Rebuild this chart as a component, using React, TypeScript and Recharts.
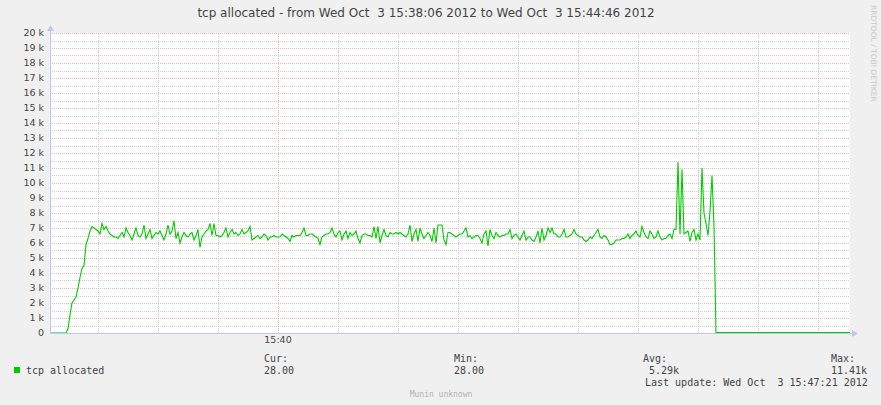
import React from 'react';
import { LineChart, Line, XAxis, YAxis, ReferenceLine, ReferenceArea } from 'recharts';

const TITLE = 'tcp allocated - from Wed Oct  3 15:38:06 2012 to Wed Oct  3 15:44:46 2012';
const SERIES_NAME = 'tcp allocated';
const SIDE_TEXT = 'RRDTOOL / TOBI OETIKER';
const LAST_UPDATE = 'Last update: Wed Oct  3 15:47:21 2012';
const FOOTER = 'Munin unknown';

// seconds since 15:38:06, one sample per second
const values = [
  0, 0, 0, 0, 0, 0, 0, 0, 0, 300,
  1200, 2000, 2200, 2400, 3000, 3700, 4300, 4500, 5900, 6300,
  6800, 7100, 7000, 6900, 6800, 6600, 7300, 6900, 7100, 6800,
  6600, 6500, 6400, 6400, 6300, 6500, 6700, 6400, 7000, 6700,
  6500, 6200, 6600, 7000, 6500, 6400, 6600, 7200, 6300, 6600,
  6900, 6300, 6500, 6700, 6600, 6800, 6500, 6200, 6600, 7200,
  6600, 6800, 7500, 6300, 6700, 6000, 6400, 6700, 6500, 6400,
  6600, 6700, 6200, 6500, 6900, 5700, 6400, 6600, 6800, 6900,
  7300, 6500, 7300, 6500, 6500, 6400, 6500, 6700, 7000, 6400,
  6700, 6900, 6600, 6700, 6500, 6600, 6900, 6600, 6700, 6800,
  7100, 6200, 6300, 6400, 6500, 6300, 6400, 6600, 6500, 6200,
  6400, 6400, 6500, 6400, 6400, 6400, 6600, 6500, 6400, 6300,
  6100, 6500, 6400, 6500, 6500, 6500, 6700, 7000, 6500, 6500,
  6600, 6600, 6500, 6400, 6300, 5900, 6400, 6500, 6600, 6600,
  6700, 7000, 6600, 6400, 6700, 6800, 6200, 6600, 6800, 6300,
  6700, 6500, 6600, 6800, 6300, 6000, 6500, 6600, 6600, 6500,
  6500, 6400, 7100, 6300, 7100, 6000, 6500, 6900, 6500, 6400,
  6700, 6600, 6600, 6700, 6600, 6700, 6600, 6500, 6400, 6600,
  7200, 6100, 6600, 6900, 6100, 7000, 6600, 6300, 6500, 6700,
  6500, 6100, 7000, 6000, 7200, 7200, 7200, 6200, 5900, 6700,
  6700, 6600, 6500, 6400, 6500, 6600, 6600, 6800, 7000, 6400,
  6500, 6300, 6400, 6500, 6500, 6300, 6000, 6600, 6800, 5800,
  6900, 6500, 6300, 6700, 6500, 6400, 6500, 6500, 6600, 6600,
  6900, 6300, 6500, 6600, 6400, 6200, 6500, 6800, 6200, 6400,
  6400, 6200, 6100, 6400, 6800, 6000, 7000, 6200, 6500, 7000,
  6700, 7000, 6600, 6600, 6400, 6400, 6600, 6900, 6400, 6400,
  6500, 6600, 6900, 6600, 6500, 6400, 6400, 6200, 6100, 6200,
  6400, 6300, 6500, 6700, 6900, 6400, 6300, 6500, 6400, 6200,
  5900, 5900, 6000, 6200, 6200, 6200, 6300, 6300, 6400, 6600,
  6300, 6500, 6600, 6800, 6500, 6400, 7100, 6700, 6400, 6300,
  6800, 6600, 6300, 6400, 6800, 6400, 6200, 6300, 6300, 6500,
  6600, 6300, 6900, 6900, 11400, 6600, 10900, 6600, 6700, 6800,
  6100, 6700, 6900, 6200, 6600, 6200, 11000, 8000, 7300, 6500,
  8100, 10500, 7100, 28,
];
const tailTime = 400;
const tailValue = 28;

const yTicks = [0, 1000, 2000, 3000, 4000, 5000, 6000, 7000, 8000, 9000, 10000,
  11000, 12000, 13000, 14000, 15000, 16000, 17000, 18000, 19000, 20000];
const yTickLabels = ['0', '1 k', '2 k', '3 k', '4 k', '5 k', '6 k', '7 k', '8 k', '9 k', '10 k',
  '11 k', '12 k', '13 k', '14 k', '15 k', '16 k', '17 k', '18 k', '19 k', '20 k'];
const minorGridY = [500, 1500, 2500, 3500, 4500, 5500, 6500, 7500, 8500, 9500,
  10500, 11500, 12500, 13500, 14500, 15500, 16500, 17500, 18500, 19500];
const majorGridY = [1000, 2000, 3000, 4000, 5000, 6000, 7000, 8000, 9000, 10000,
  11000, 12000, 13000, 14000, 15000, 16000, 17000, 18000, 19000, 20000];
const minorGridX = [24, 54, 84, 144, 174, 204, 234, 264, 294, 324, 354, 384];
const majorGridX = [114];
const xTicks = [114];
const xTickLabels = ['15:40'];

const legendHeads = ['Cur:', 'Min:', 'Avg:', 'Max:'];
const legendValues = ['28.00', '28.00', ' 5.29k', '11.41k'];
const legendColumnsX = [264, 454, 643, 831];

const LINE_COLOR = '#00CC00';
const AXIS_COLOR = '#C4C4F4';
const MINOR_COLOR = '#CFCFCF';
const MAJOR_COLOR = '#EDB9B9';

const data = [...values.map((v, i) => ({ t: i, v })), { t: tailTime, v: tailValue }];

const crispLine = (color: string) => (p: any) => {
  const x1 = Math.round(p.x1) + 0.5;
  const x2 = Math.round(p.x2) + 0.5;
  const y1 = Math.round(p.y1) + 0.5;
  const y2 = Math.round(p.y2) + 0.5;
  const vertical = Math.abs(p.x1 - p.x2) < 0.01;
  return (
    <line
      x1={vertical ? x1 : p.x1}
      x2={vertical ? x2 : p.x2}
      y1={vertical ? p.y1 : y1}
      y2={vertical ? p.y2 : y2}
      stroke={color}
      strokeWidth={1}
      strokeDasharray="1 1"
      shapeRendering="crispEdges"
    />
  );
};

const XArrow = (props: any) => {
  const vb = props.viewBox || {};
  const x = vb.x, y = vb.y + 0.5, w = vb.width;
  return (
    <g>
      <line x1={x} y1={y} x2={x + w + 3} y2={y} stroke={AXIS_COLOR} strokeWidth={1} />
      <polygon points={`${x + w + 2},${y - 3.5} ${x + w + 8},${y} ${x + w + 2},${y + 3.5}`} fill={AXIS_COLOR} />
    </g>
  );
};

const YArrow = (props: any) => {
  const vb = props.viewBox || {};
  const x = vb.x + vb.width + 0.5, y = vb.y, h = vb.height;
  return (
    <g>
      <line x1={x} y1={y + h} x2={x} y2={y - 3} stroke={AXIS_COLOR} strokeWidth={1} />
      <polygon points={`${x - 3.5},${y - 2} ${x},${y - 8} ${x + 3.5},${y - 2}`} fill={AXIS_COLOR} />
    </g>
  );
};

const mono = "'DejaVu Sans Mono', monospace";
const sans = "'DejaVu Sans', sans-serif";

export default function App() {
  return (
    <div style={{ position: 'absolute', left: 0, top: 0, width: 881, height: 405, background: '#F0F0F0', overflow: 'hidden' }}>
      <div style={{ position: 'absolute', left: 0, top: 0 }}>
        <LineChart width={881} height={405} data={data} margin={{ top: 33, right: 31, left: 0, bottom: 52 }}>
          <XAxis
            dataKey="t"
            type="number"
            domain={[0, 400]}
            ticks={xTicks}
            tickFormatter={(v: number) => xTickLabels[xTicks.indexOf(v)] ?? ''}
            tickLine={false}
            axisLine={false}
            height={20}
            tickSize={0}
            tickMargin={3}
            tick={{ fontSize: 9.5, fill: '#444', fontFamily: sans }}
            label={XArrow}
          />
          <YAxis
            type="number"
            domain={[0, 20000]}
            ticks={yTicks}
            tickFormatter={(v: number) => yTickLabels[yTicks.indexOf(v)] ?? ''}
            tickLine={false}
            axisLine={false}
            width={50}
            tickSize={0}
            tickMargin={6}
            interval={0}
            tick={{ fontSize: 9.5, fill: '#444', fontFamily: sans }}
            label={YArrow}
          />
          <ReferenceArea x1={0} x2={400} y1={0} y2={20000} fill="#FFFFFF" fillOpacity={1} stroke="none" />
          {minorGridY.map((v) => (
            <ReferenceLine key={'my' + v} y={v} shape={crispLine(MINOR_COLOR)} />
          ))}
          {minorGridX.map((v) => (
            <ReferenceLine key={'mx' + v} x={v} shape={crispLine(MINOR_COLOR)} />
          ))}
          {majorGridY.map((v) => (
            <ReferenceLine key={'My' + v} y={v} shape={crispLine(MAJOR_COLOR)} />
          ))}
          {majorGridX.map((v) => (
            <ReferenceLine key={'Mx' + v} x={v} shape={crispLine(MAJOR_COLOR)} />
          ))}
          <Line
            type="linear"
            dataKey="v"
            stroke={LINE_COLOR}
            strokeWidth={1.1}
            dot={false}
            isAnimationActive={false}
          />
        </LineChart>
      </div>
      <svg width={881} height={405} style={{ position: 'absolute', left: 0, top: 0, pointerEvents: 'none' }}>
        <text x={426} y={13} textAnchor="middle" dominantBaseline="central" fontFamily={sans} fontSize={12} fill="#444" style={{ whiteSpace: 'pre' }}>
          {TITLE}
        </text>
        <text
          x={873}
          y={5}
          transform="rotate(90 873 5)"
          dominantBaseline="central"
          fontFamily={sans}
          fontSize={7.5}
          fill="#C8C8C8"
        >
          {SIDE_TEXT}
        </text>
        <rect x={14} y={367} width={6} height={6} fill={LINE_COLOR} />
        <text x={26} y={370.5} dominantBaseline="central" fontFamily={mono} fontSize={10} fill="#444">
          {SERIES_NAME}
        </text>
        {legendHeads.map((h, i) => (
          <text key={'h' + i} x={legendColumnsX[i]} y={358.5} dominantBaseline="central" fontFamily={mono} fontSize={10} fill="#444" style={{ whiteSpace: 'pre' }}>
            {h}
          </text>
        ))}
        {legendValues.map((h, i) => (
          <text key={'v' + i} x={legendColumnsX[i]} y={370.5} dominantBaseline="central" fontFamily={mono} fontSize={10} fill="#444" style={{ whiteSpace: 'pre' }}>
            {h}
          </text>
        ))}
        <text x={645} y={382.5} dominantBaseline="central" fontFamily={mono} fontSize={10} fill="#444" style={{ whiteSpace: 'pre' }}>
          {LAST_UPDATE}
        </text>
        <text x={441} y={394} textAnchor="middle" dominantBaseline="central" fontFamily={mono} fontSize={8} fill="#B0B0B0">
          {FOOTER}
        </text>
      </svg>
    </div>
  );
}
